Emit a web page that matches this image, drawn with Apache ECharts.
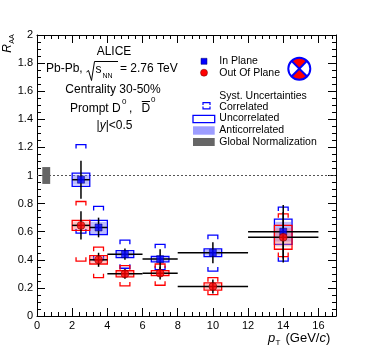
<!DOCTYPE html>
<html>
<head>
<meta charset="utf-8">
<script src="https://cdn.jsdelivr.net/npm/echarts@6/dist/echarts.min.js"></script>
<style>
  html, body { margin: 0; padding: 0; background: #fff; }
  #chart { width: 374px; height: 352px; }
</style>
</head>
<body>
<div id="chart"></div>
<script>
// pT bins (GeV/c)
const ptCenter = [2.5, 3.5, 5, 7, 10, 14];
const ptLow = [2, 3, 4, 6, 8, 12];
const ptHigh = [3, 4, 6, 8, 12, 16];

// In plane R_AA
const inPlane = [0.97, 0.63, 0.44, 0.405, 0.45, 0.60];
const inPlaneStat = [0.135, 0.07, 0.04, 0.07, 0.075, 0.19];
const inPlaneUncorr = [0.047, 0.05, 0.025, 0.02, 0.028, 0.09];
const inPlaneAnti = [0.035, 0.04, 0.018, 0.015, 0.02, 0.07];
const inPlaneCorrLow = [0.59, 0.40, 0.34, 0.33, 0.32, 0.39];
const inPlaneCorrHigh = [1.22, 0.78, 0.54, 0.51, 0.575, 0.775];

// Out of plane R_AA
const outPlane = [0.645, 0.40, 0.30, 0.305, 0.21, 0.56];
const outPlaneStat = [0.1, 0.05, 0.035, 0.045, 0.05, 0.18];
const outPlaneUncorr = [0.035, 0.03, 0.022, 0.018, 0.026, 0.085];
const outPlaneAnti = [0.028, 0.022, 0.016, 0.014, 0.02, 0.065];
const outPlaneCorrLow = [0.39, 0.273, 0.214, 0.219, 0.152, 0.423];
const outPlaneCorrHigh = [0.815, 0.49, 0.358, 0.37, 0.273, 0.727];

// global normalization uncertainty box [xFrom, xTo, low, high]
const globalNorm = [[0.3, 0.75, 0.94, 1.06]];
const refLevel = [1];

const FONT = '"Liberation Sans", Arial, sans-serif';
const BLUE = '#0000ff';
const RED = '#ff0000';

const chart = echarts.init(document.getElementById('chart'));

// 盒子 (uncorrelated / anticorrelated)
function boxItem(halfW, color, filled) {
  return function (params, api) {
    const x = api.value(0), y = api.value(1), e = api.value(2);
    const p1 = api.coord([x - halfW, y + e]);
    const p2 = api.coord([x + halfW, y - e]);
    return {
      type: 'rect',
      shape: { x: p1[0], y: p1[1], width: p2[0] - p1[0], height: p2[1] - p1[1] },
      style: filled ? { fill: color, stroke: null } : { fill: 'none', stroke: color, lineWidth: 1.3 }
    };
  };
}

// correlated brackets
function bracketItem(color) {
  return function (params, api) {
    const x = api.value(0);
    const bot = api.coord([x, api.value(1)]);
    const top = api.coord([x, api.value(2)]);
    const l = api.coord([x - 0.28, 0])[0];
    const r = api.coord([x + 0.28, 0])[0];
    const t = 4;
    const st = { stroke: color, fill: 'none', lineWidth: 1.3 };
    return {
      type: 'group',
      children: [
        { type: 'polyline', shape: { points: [[l, top[1] + t], [l, top[1]], [r, top[1]], [r, top[1] + t]] }, style: st },
        { type: 'polyline', shape: { points: [[l, bot[1] - t], [l, bot[1]], [r, bot[1]], [r, bot[1] - t]] }, style: st }
      ]
    };
  };
}

// statistical error bars
function errItem(params, api) {
  const xl = api.value(0), xh = api.value(1), x = api.value(2), y = api.value(3), e = api.value(4);
  const a = api.coord([xl, y]), b = api.coord([xh, y]);
  const c = api.coord([x, y + e]), d = api.coord([x, y - e]);
  const st = { stroke: '#000', lineWidth: 1.5 };
  return {
    type: 'group',
    children: [
      { type: 'line', shape: { x1: a[0], y1: a[1], x2: b[0], y2: b[1] }, style: st },
      { type: 'line', shape: { x1: c[0], y1: c[1], x2: d[0], y2: d[1] }, style: st }
    ]
  };
}

const zip = (...arrs) => arrs[0].map((_, i) => arrs.map(a => a[i]));

const axisCommon = {
  axisLine: { show: true, onZero: false, lineStyle: { color: '#000', width: 1 } },
  axisTick: { show: true, inside: true, length: 8, lineStyle: { color: '#000' } },
  minorTick: { show: true, length: 4, lineStyle: { color: '#000' } },
  splitLine: { show: false },
  minorSplitLine: { show: false }
};

const option = {
  animation: false,
  backgroundColor: '#fff',
  grid: { left: 37, right: 38, top: 35, bottom: 36, outerBoundsMode: 'none' },
  xAxis: [
    Object.assign({}, axisCommon, {
      type: 'value', min: 0, max: 17, interval: 2, position: 'bottom',
      minorTick: Object.assign({}, axisCommon.minorTick, { splitNumber: 5 }),
      axisLabel: { show: true, showMaxLabel: false, margin: 4, fontSize: 11, color: '#000', fontFamily: FONT }
    }),
    Object.assign({}, axisCommon, {
      type: 'value', min: 0, max: 17, interval: 2, position: 'top',
      minorTick: Object.assign({}, axisCommon.minorTick, { splitNumber: 5 }),
      axisLabel: { show: false }
    })
  ],
  yAxis: [
    Object.assign({}, axisCommon, {
      type: 'value', min: 0, max: 2, interval: 0.2, position: 'left',
      minorTick: Object.assign({}, axisCommon.minorTick, { splitNumber: 4 }),
      axisLabel: { show: true, margin: 4, fontSize: 11, color: '#000', fontFamily: FONT }
    }),
    Object.assign({}, axisCommon, {
      type: 'value', min: 0, max: 2, interval: 0.2, position: 'right',
      minorTick: Object.assign({}, axisCommon.minorTick, { splitNumber: 4 }),
      axisLabel: { show: false }
    })
  ],
  series: [
    {
      // dotted line at R_AA = 1
      type: 'custom', silent: true,
      data: refLevel.map(v => [v]),
      renderItem: function (params, api) {
        const cs = params.coordSys;
        const y = api.coord([0, api.value(0)])[1];
        return {
          type: 'line',
          shape: { x1: cs.x, y1: y, x2: cs.x + cs.width, y2: y },
          style: { stroke: '#555', lineWidth: 1, lineDash: [2, 2] }
        };
      }
    },
    {
      type: 'custom', silent: true,
      data: globalNorm,
      renderItem: function (params, api) {
        const p1 = api.coord([api.value(0), api.value(3)]);
        const p2 = api.coord([api.value(1), api.value(2)]);
        return {
          type: 'rect',
          shape: { x: p1[0], y: p1[1], width: p2[0] - p1[0], height: p2[1] - p1[1] },
          style: { fill: '#666666' }
        };
      }
    },
    { type: 'custom', silent: true, data: zip(ptCenter, inPlane, inPlaneAnti), renderItem: boxItem(0.45, 'rgba(120,120,255,0.5)', true) },
    { type: 'custom', silent: true, data: zip(ptCenter, inPlane, inPlaneUncorr), renderItem: boxItem(0.5, BLUE, false) },
    { type: 'custom', silent: true, data: zip(ptCenter, inPlaneCorrLow, inPlaneCorrHigh), renderItem: bracketItem(BLUE) },
    { type: 'custom', silent: true, data: zip(ptCenter, outPlane, outPlaneAnti), renderItem: boxItem(0.45, 'rgba(255,120,120,0.45)', true) },
    { type: 'custom', silent: true, data: zip(ptCenter, outPlane, outPlaneUncorr), renderItem: boxItem(0.5, RED, false) },
    { type: 'custom', silent: true, data: zip(ptCenter, outPlaneCorrLow, outPlaneCorrHigh), renderItem: bracketItem(RED) },
    { type: 'custom', silent: true, data: zip(ptLow, ptHigh, ptCenter, inPlane, inPlaneStat), renderItem: errItem },
    { type: 'custom', silent: true, data: zip(ptLow, ptHigh, ptCenter, outPlane, outPlaneStat), renderItem: errItem },
    {
      name: 'In Plane', type: 'scatter', symbol: 'rect', symbolSize: 7,
      data: zip(ptCenter, inPlane),
      itemStyle: { color: BLUE, borderColor: '#000066', borderWidth: 0.6 }
    },
    {
      name: 'Out Of Plane', type: 'scatter', symbol: 'circle', symbolSize: 8,
      data: zip(ptCenter, outPlane),
      itemStyle: { color: RED, borderColor: '#660000', borderWidth: 0.6 }
    }
  ],
  graphic: [
    // axis titles
    { type: 'text', x: 8, y: 48.5, rotation: Math.PI / 2, style: { text: 'R', font: 'italic 12px ' + FONT, fill: '#000', align: 'center', verticalAlign: 'middle' } },
    { type: 'text', x: 12.5, y: 39, rotation: Math.PI / 2, style: { text: 'AA', font: '7px ' + FONT, fill: '#000', align: 'center', verticalAlign: 'middle' } },
    { type: 'text', x: 268, y: 338, style: { text: 'p', font: 'italic 13px ' + FONT, fill: '#000', align: 'left', verticalAlign: 'middle' } },
    { type: 'text', x: 275.5, y: 343, style: { text: 'T', font: '8px ' + FONT, fill: '#000', align: 'left', verticalAlign: 'middle' } },
    { type: 'text', x: 285.5, y: 338, style: { text: '(GeV/{i|c})', font: '13px ' + FONT, fill: '#000', align: 'left', verticalAlign: 'middle', rich: { i: { font: 'italic 13px ' + FONT, fill: '#000' } } } },

    // ALICE block
    { type: 'text', x: 114, y: 52, style: { text: 'ALICE', font: '12px ' + FONT, fill: '#000', align: 'center', verticalAlign: 'middle' } },
    { type: 'text', x: 46, y: 69, style: { text: 'Pb-Pb,', font: '12px ' + FONT, fill: '#000', align: 'left', verticalAlign: 'middle' } },
    { type: 'polyline', shape: { points: [[86.5, 72], [88.5, 70.5], [91.5, 80.5], [94.5, 61.5], [118, 61.5]] }, style: { stroke: '#000', lineWidth: 1, fill: 'none' } },
    { type: 'text', x: 95.5, y: 70, style: { text: 's', font: '12px ' + FONT, fill: '#000', align: 'left', verticalAlign: 'middle' } },
    { type: 'text', x: 102.5, y: 76, style: { text: 'NN', font: '7px ' + FONT, fill: '#000', align: 'left', verticalAlign: 'middle' } },
    { type: 'text', x: 120, y: 69, style: { text: '= 2.76 TeV', font: '12px ' + FONT, fill: '#000', align: 'left', verticalAlign: 'middle' } },
    { type: 'text', x: 113, y: 89.5, style: { text: 'Centrality 30-50%', font: '12px ' + FONT, fill: '#000', align: 'center', verticalAlign: 'middle' } },
    { type: 'text', x: 70, y: 108.5, style: { text: 'Prompt D', font: '12px ' + FONT, fill: '#000', align: 'left', verticalAlign: 'middle' } },
    { type: 'text', x: 122, y: 101.5, style: { text: '0', font: '8px ' + FONT, fill: '#000', align: 'left', verticalAlign: 'middle' } },
    { type: 'text', x: 129, y: 108.5, style: { text: ',', font: '12px ' + FONT, fill: '#000', align: 'left', verticalAlign: 'middle' } },
    { type: 'text', x: 141.5, y: 108.5, style: { text: 'D', font: '12px ' + FONT, fill: '#000', align: 'left', verticalAlign: 'middle' } },
    { type: 'line', shape: { x1: 141.8, y1: 101.5, x2: 150, y2: 101.5 }, style: { stroke: '#000', lineWidth: 1 } },
    { type: 'text', x: 151, y: 99.5, style: { text: '0', font: '8px ' + FONT, fill: '#000', align: 'left', verticalAlign: 'middle' } },
    { type: 'text', x: 114.5, y: 126, style: { text: '|{i|y}|<0.5', font: '12px ' + FONT, fill: '#000', align: 'center', verticalAlign: 'middle', rich: { i: { font: 'italic 12px ' + FONT, fill: '#000' } } } },

    // legend
    { type: 'rect', shape: { x: 201, y: 58.3, width: 6, height: 6 }, style: { fill: BLUE, stroke: '#000066', lineWidth: 0.5 } },
    { type: 'text', x: 219.3, y: 61.3, style: { text: 'In Plane', font: '10.5px ' + FONT, fill: '#000', align: 'left', verticalAlign: 'middle' } },
    { type: 'circle', shape: { cx: 204, cy: 72.7, r: 3.5 }, style: { fill: RED, stroke: '#660000', lineWidth: 0.5 } },
    { type: 'text', x: 219.3, y: 72.7, style: { text: 'Out Of Plane', font: '10.5px ' + FONT, fill: '#000', align: 'left', verticalAlign: 'middle' } },

    // logo
    { type: 'circle', shape: { cx: 299.3, cy: 68.7, r: 11 }, style: { fill: '#fff' } },
    { type: 'sector', shape: { cx: 299.3, cy: 68.7, r: 11, r0: 0, startAngle: -3 * Math.PI / 4, endAngle: -Math.PI / 4, clockwise: true }, style: { fill: RED } },
    { type: 'sector', shape: { cx: 299.3, cy: 68.7, r: 11, r0: 0, startAngle: Math.PI / 4, endAngle: 3 * Math.PI / 4, clockwise: true }, style: { fill: RED } },
    { type: 'line', shape: { x1: 291.5, y1: 60.9, x2: 307.1, y2: 76.5 }, style: { stroke: BLUE, lineWidth: 2 } },
    { type: 'line', shape: { x1: 307.1, y1: 60.9, x2: 291.5, y2: 76.5 }, style: { stroke: BLUE, lineWidth: 2 } },
    { type: 'circle', shape: { cx: 299.3, cy: 68.7, r: 11 }, style: { fill: 'none', stroke: BLUE, lineWidth: 2 } },

    { type: 'text', x: 219.3, y: 96.3, style: { text: 'Syst. Uncertainties', font: '10.5px ' + FONT, fill: '#000', align: 'left', verticalAlign: 'middle' } },
    { type: 'polyline', shape: { points: [[203, 105], [203, 102.7], [210, 102.7], [210, 105]] }, style: { stroke: BLUE, lineWidth: 1.2, fill: 'none' } },
    { type: 'polyline', shape: { points: [[203, 106.5], [203, 108.8], [210, 108.8], [210, 106.5]] }, style: { stroke: BLUE, lineWidth: 1.2, fill: 'none' } },
    { type: 'text', x: 219.3, y: 107.3, style: { text: 'Correlated', font: '10.5px ' + FONT, fill: '#000', align: 'left', verticalAlign: 'middle' } },
    { type: 'rect', shape: { x: 193, y: 115.3, width: 21.7, height: 7.4 }, style: { fill: '#fff', stroke: BLUE, lineWidth: 1.3 } },
    { type: 'text', x: 219.3, y: 118.5, style: { text: 'Uncorrelated', font: '10.5px ' + FONT, fill: '#000', align: 'left', verticalAlign: 'middle' } },
    { type: 'rect', shape: { x: 193, y: 126.3, width: 21.7, height: 8.4 }, style: { fill: '#9d9dff' } },
    { type: 'text', x: 219.3, y: 129.7, style: { text: 'Anticorrelated', font: '10.5px ' + FONT, fill: '#000', align: 'left', verticalAlign: 'middle' } },
    { type: 'rect', shape: { x: 193, y: 138, width: 21.7, height: 8 }, style: { fill: '#666666' } },
    { type: 'text', x: 219.3, y: 141.7, style: { text: 'Global Normalization', font: '10.5px ' + FONT, fill: '#000', align: 'left', verticalAlign: 'middle' } }
  ]
};

chart.setOption(option);
</script>
</body>
</html>
